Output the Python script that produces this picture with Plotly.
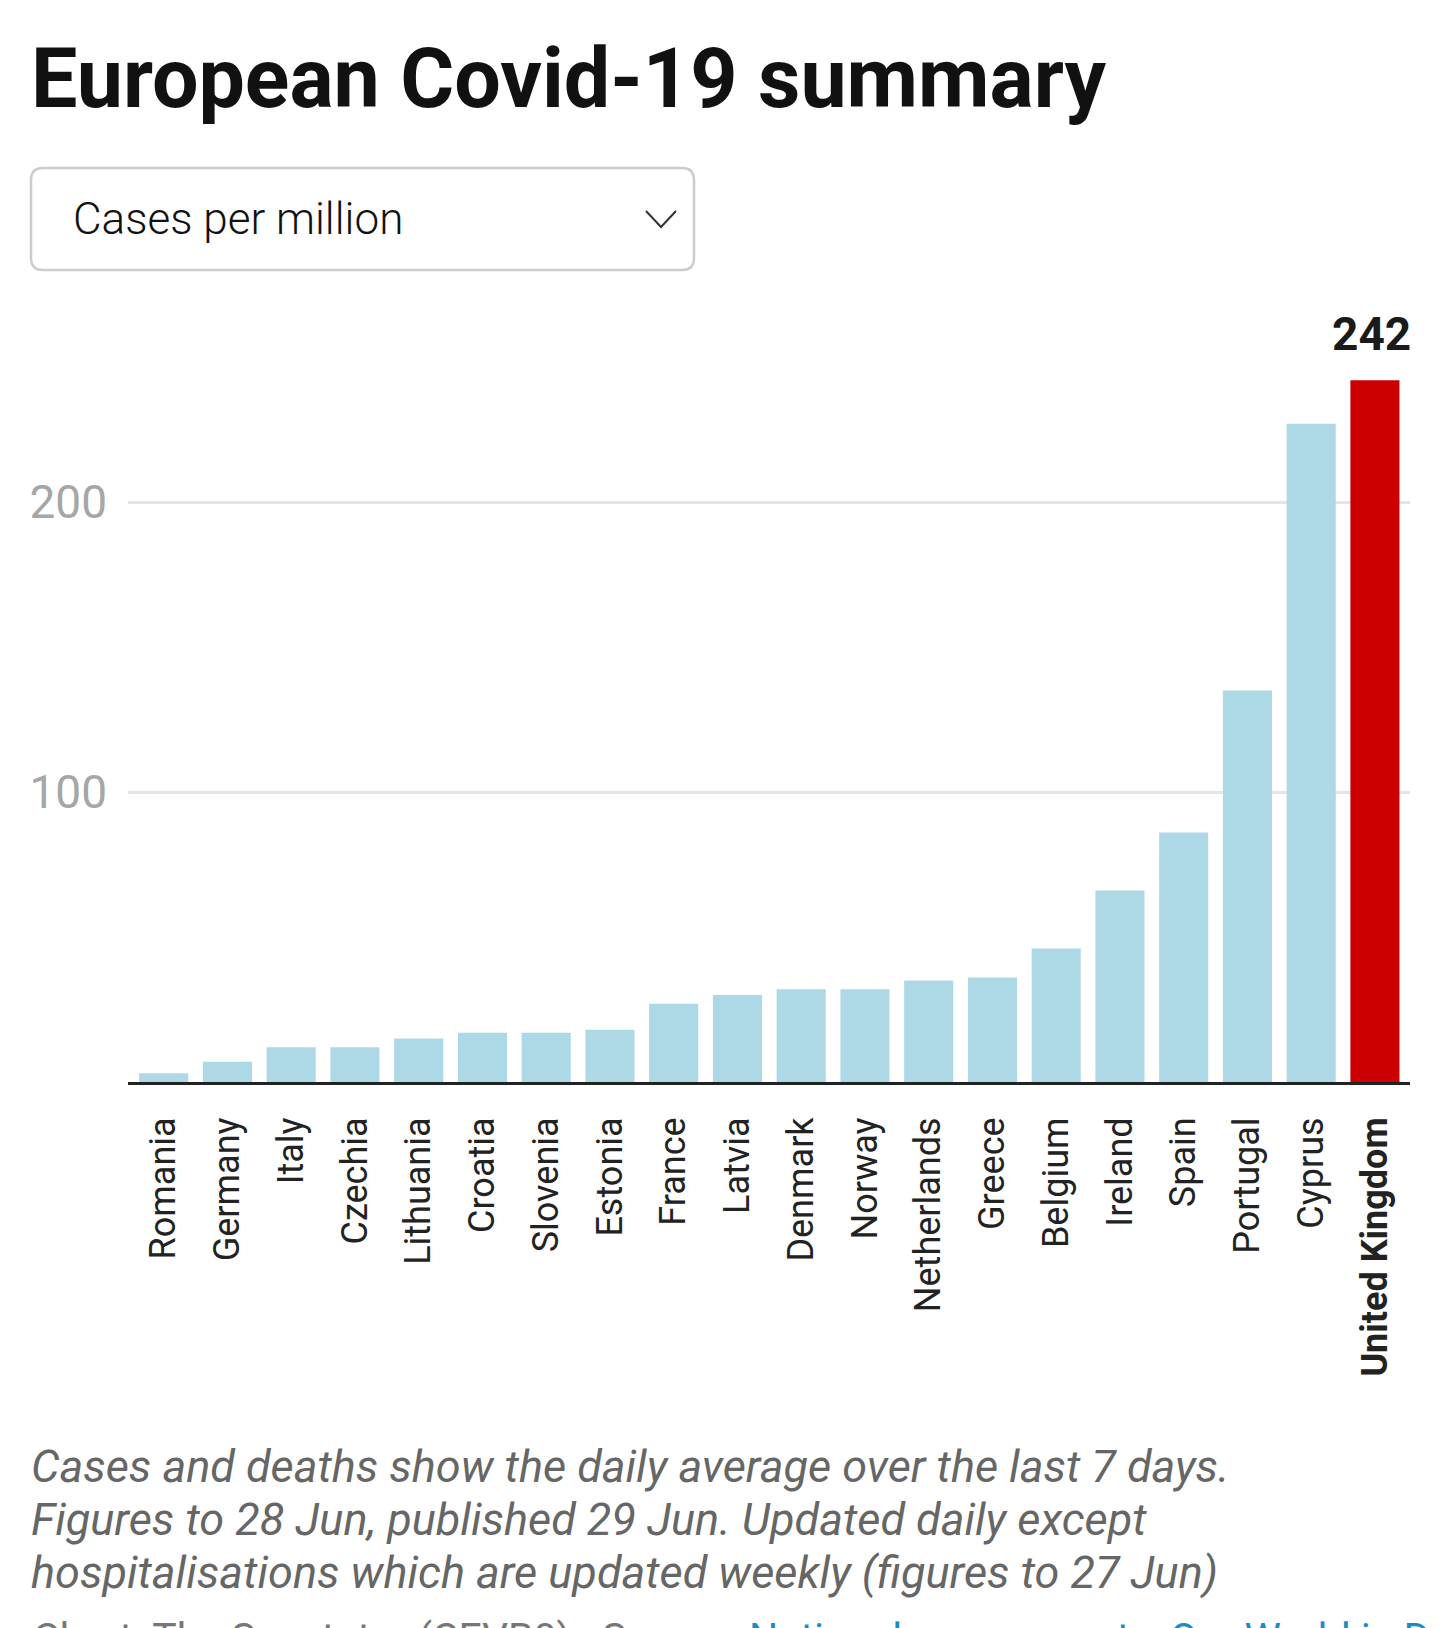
import plotly.graph_objects as go

countries = ['Romania', 'Germany', 'Italy', 'Czechia', 'Lithuania', 'Croatia',
             'Slovenia', 'Estonia', 'France', 'Latvia', 'Denmark', 'Norway',
             'Netherlands', 'Greece', 'Belgium', 'Ireland', 'Spain', 'Portugal',
             'Cyprus', 'United Kingdom']
cases_per_million = [3, 7, 12, 12, 15, 17, 17, 18, 27, 30, 32, 32,
                     35, 36, 46, 66, 86, 135, 227, 242]
y_ticks = [100, 200]
highlight = 'United Kingdom'

title = 'European Covid-19 summary'
dropdown_label = 'Cases per million'
notes = ['Cases and deaths show the daily average over the last 7 days.',
         'Figures to 28 Jun, published 29 Jun. Updated daily except',
         'hospitalisations which are updated weekly (figures to 27 Jun)']
credit = 'Chart: The Spectator (CEVB0) · Source: '
source = 'National governments, Our World in Data'

W, H = 1440, 1628
OFF = 8  # page body margin
# plot area in page pixels
PL, PR, PT, PB = 128, 1410, 328, 1082


def px(x):
    return (x - PL) / (PR - PL)


def py(y):
    return (PB - y) / (PB - PT)


FONT = 'Roboto'

colors = ['#cc0000' if c == highlight else '#add8e6' for c in countries]
ticktext = ['<b>%s</b>' % c if c == highlight else c for c in countries]

fig = go.Figure()
fig.add_trace(go.Bar(x=countries, y=cases_per_million, marker_color=colors,
                     marker_line_width=0, hoverinfo='x+y'))

# label on the highlighted bar
hi = countries.index(highlight)
fig.add_annotation(x=countries[hi], y=cases_per_million[hi], text='<b>%d</b>' % cases_per_million[hi],
                   showarrow=False, yanchor='bottom', yshift=17, xshift=-3,
                   font=dict(family=FONT, size=46, color='#1a1a1a'))

# title
fig.add_annotation(xref='paper', yref='paper', x=px(29), y=py(79), xanchor='left', yanchor='middle',
                   text='<b>%s</b>' % title, showarrow=False,
                   font=dict(family=FONT, size=82.5, color='#111111'))

# dropdown box
x0, x1, y0, y1, r = 31, 694, 168, 270, 12
pts = [('M', x0 + r, y0), ('L', x1 - r, y0), ('Q', x1, y0), ('', x1, y0 + r),
       ('L', x1, y1 - r), ('Q', x1, y1), ('', x1 - r, y1), ('L', x0 + r, y1),
       ('Q', x0, y1), ('', x0, y1 - r), ('L', x0, y0 + r), ('Q', x0, y0), ('', x0 + r, y0)]
path = ''.join('%s%.5f,%.5f ' % (cmd, px(a), py(b)) for cmd, a, b in pts) + 'Z'
fig.add_shape(type='path', path=path, xref='paper', yref='paper',
              line=dict(color='#cccccc', width=2.5), fillcolor='white', layer='above')
fig.add_shape(type='path', xref='paper', yref='paper',
              path='M%.5f,%.5f L%.5f,%.5f L%.5f,%.5f' % (px(646), py(211), px(661), py(227), px(676), py(211)),
              line=dict(color='#333333', width=2))
fig.add_annotation(xref='paper', yref='paper', x=px(71), y=py(219), xanchor='left', yanchor='middle',
                   text=dropdown_label, showarrow=False,
                   font=dict(family=FONT, size=44, color='#111111', weight=300))

# notes
for i, line in enumerate(notes):
    fig.add_annotation(xref='paper', yref='paper', x=px(29), y=py(1466 + 53 * i),
                       xanchor='left', yanchor='middle', text='<i>%s</i>' % line, showarrow=False,
                       font=dict(family=FONT, size=45, color='#666666'))
fig.add_annotation(xref='paper', yref='paper', x=px(31), y=py(1638),
                   xanchor='left', yanchor='middle', showarrow=False,
                   text=credit + '<span style="color:#1a8dc6">%s</span>' % source,
                   font=dict(family=FONT, size=41, color='#777777'))

fig.update_layout(
    width=W, height=H,
    margin=dict(l=PL - OFF, r=W + OFF - PR, t=PT - OFF, b=H + OFF - PB),
    plot_bgcolor='white', paper_bgcolor='white',
    bargap=0.23, showlegend=False,
    font=dict(family=FONT),
)
fig.update_xaxes(tickvals=countries, ticktext=ticktext, tickangle=-90,
                 range=[-0.56, len(countries) - 0.45],
                 tickfont=dict(family=FONT, size=36, color='#222222'),
                 showline=True, linecolor='#222222', linewidth=3,
                 ticks='', ticklabelstandoff=18, showgrid=False)
fig.update_yaxes(range=[0, 260], tickvals=y_ticks, showgrid=True,
                 gridcolor='#e5e5e5', gridwidth=3, zeroline=False,
                 tickfont=dict(family=FONT, size=46, color='#a6a6a6'),
                 ticks='', ticklabelstandoff=20)

fig.write_html('out.html')
